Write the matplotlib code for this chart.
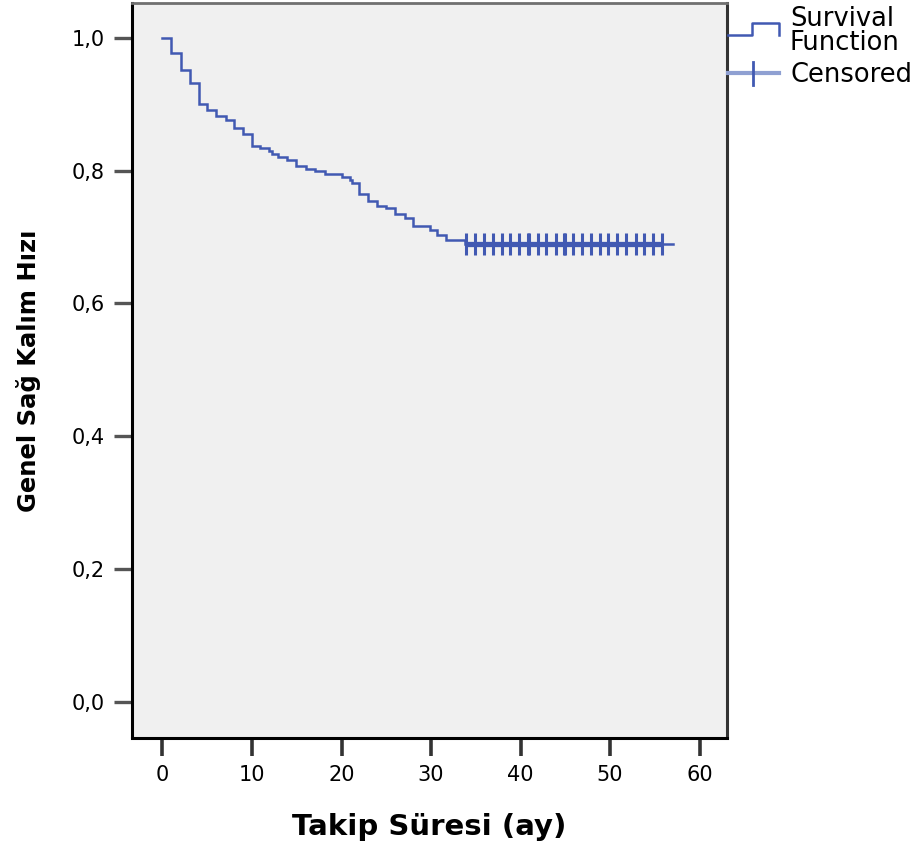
import numpy as np
import matplotlib.pyplot as plt
from matplotlib.lines import Line2D

# Kaplan-Meier estimate: time of each drop (months) and survival after it
event_times = [0, 1.0, 2.1, 3.05, 4.1, 5.0, 6.0, 7.1, 8.0, 9.05, 10.0, 10.9, 11.9,
               12.2, 12.9, 13.9, 14.9, 16.0, 17.0, 18.1, 20.0, 20.9, 21.2, 21.9,
               23.0, 24.0, 25.0, 26.0, 27.1, 28.0, 29.9, 30.7, 31.7, 33.8]
survival = [1.0, 0.977, 0.952, 0.932, 0.900, 0.892, 0.883, 0.877, 0.864, 0.855,
            0.837, 0.835, 0.830, 0.825, 0.821, 0.816, 0.807, 0.803, 0.799, 0.795,
            0.791, 0.786, 0.782, 0.765, 0.755, 0.747, 0.744, 0.735, 0.729, 0.716,
            0.711, 0.703, 0.695, 0.689]
last_followup = 57.0

# censored patients (all after the last event)
censored_times = [33.9, 34.9, 35.9, 36.9, 37.9, 38.8, 39.8, 40.8, 40.95, 41.9, 42.8,
                  43.9, 44.8, 44.95, 45.9, 46.9, 47.9, 48.9, 49.8, 50.8, 51.8,
                  52.9, 53.8, 54.8, 55.8]

x_ticks = [0, 10, 20, 30, 40, 50, 60]
y_ticks = [0.0, 0.2, 0.4, 0.6, 0.8, 1.0]
y_tick_labels = ['0,0', '0,2', '0,4', '0,6', '0,8', '1,0']

line_col = '#4159b2'
pale_col = '#8fa0d2'

fig = plt.figure(figsize=(9.16, 8.47), dpi=100)
ax = fig.add_axes([131.5 / 916, 1 - 737.5 / 847, 595 / 916, 734 / 847])
ax.set_facecolor('#f0f0f0')

t = np.append(event_times, last_followup)
s = np.append(survival, survival[-1])
ax.step(t, s, where='post', color=line_col, lw=1.8, solid_joinstyle='miter')

# censor marks sit on the curve; their crossbars merge into a heavier band
cens_s = [survival[np.searchsorted(event_times, c, side='right') - 1] for c in censored_times]
ax.plot([censored_times[0], censored_times[-1]], [cens_s[0], cens_s[-1]],
        color=line_col, lw=3.8, solid_capstyle='butt')
ax.plot(censored_times, cens_s, ls='none', marker='|', ms=16, mew=2.2, color=line_col)

ax.set_xlim(-3.46, 63.0)
ax.set_ylim(-0.054, 1.052)
ax.set_xticks(x_ticks)
ax.set_yticks(y_ticks)
ax.set_yticklabels(y_tick_labels)

for side in ['left', 'bottom']:
    ax.spines[side].set_color('black')
    ax.spines[side].set_linewidth(2.2)
ax.spines['top'].set_color('#707070')
ax.spines['top'].set_linewidth(2.0)
ax.spines['right'].set_color('#333333')
ax.spines['right'].set_linewidth(2.2)

ax.tick_params(axis='y', length=13, width=2.4, color='#555555', pad=6,
               labelsize=15, labelfontfamily='DejaVu Sans')
ax.tick_params(axis='x', length=13, width=2.6, color='#333333', pad=7,
               labelsize=15, labelfontfamily='DejaVu Sans')

ax.set_xlabel('Takip Süresi (ay)', fontsize=21, fontweight='bold',
              family='DejaVu Sans', labelpad=20)
ax.set_ylabel('Genel Sağ Kalım Hızı', fontsize=17.5, fontweight='bold',
              family='DejaVu Sans', labelpad=22)

# legend drawn beside the plot area
def fx(px):
    return px / 916

def fy(py):
    return 1 - py / 847

fig.add_artist(Line2D([fx(728), fx(752), fx(752), fx(779), fx(779)],
                      [fy(35), fy(35), fy(23), fy(23), fy(35)],
                      color=line_col, lw=1.8))
fig.add_artist(Line2D([fx(728), fx(779)], [fy(73), fy(73)], color=pale_col, lw=3))
fig.add_artist(Line2D([fx(753), fx(753)], [fy(62), fy(85)], color=line_col, lw=2))
fig.text(fx(790), fy(31), 'Survival\nFunction', fontsize=18.5, family='DejaVu Sans',
         va='center', ha='left', linespacing=0.9)
fig.text(fx(790), fy(75), 'Censored', fontsize=18.5, family='DejaVu Sans',
         va='center', ha='left')

fig.savefig('out.png', dpi=100, facecolor='white')
